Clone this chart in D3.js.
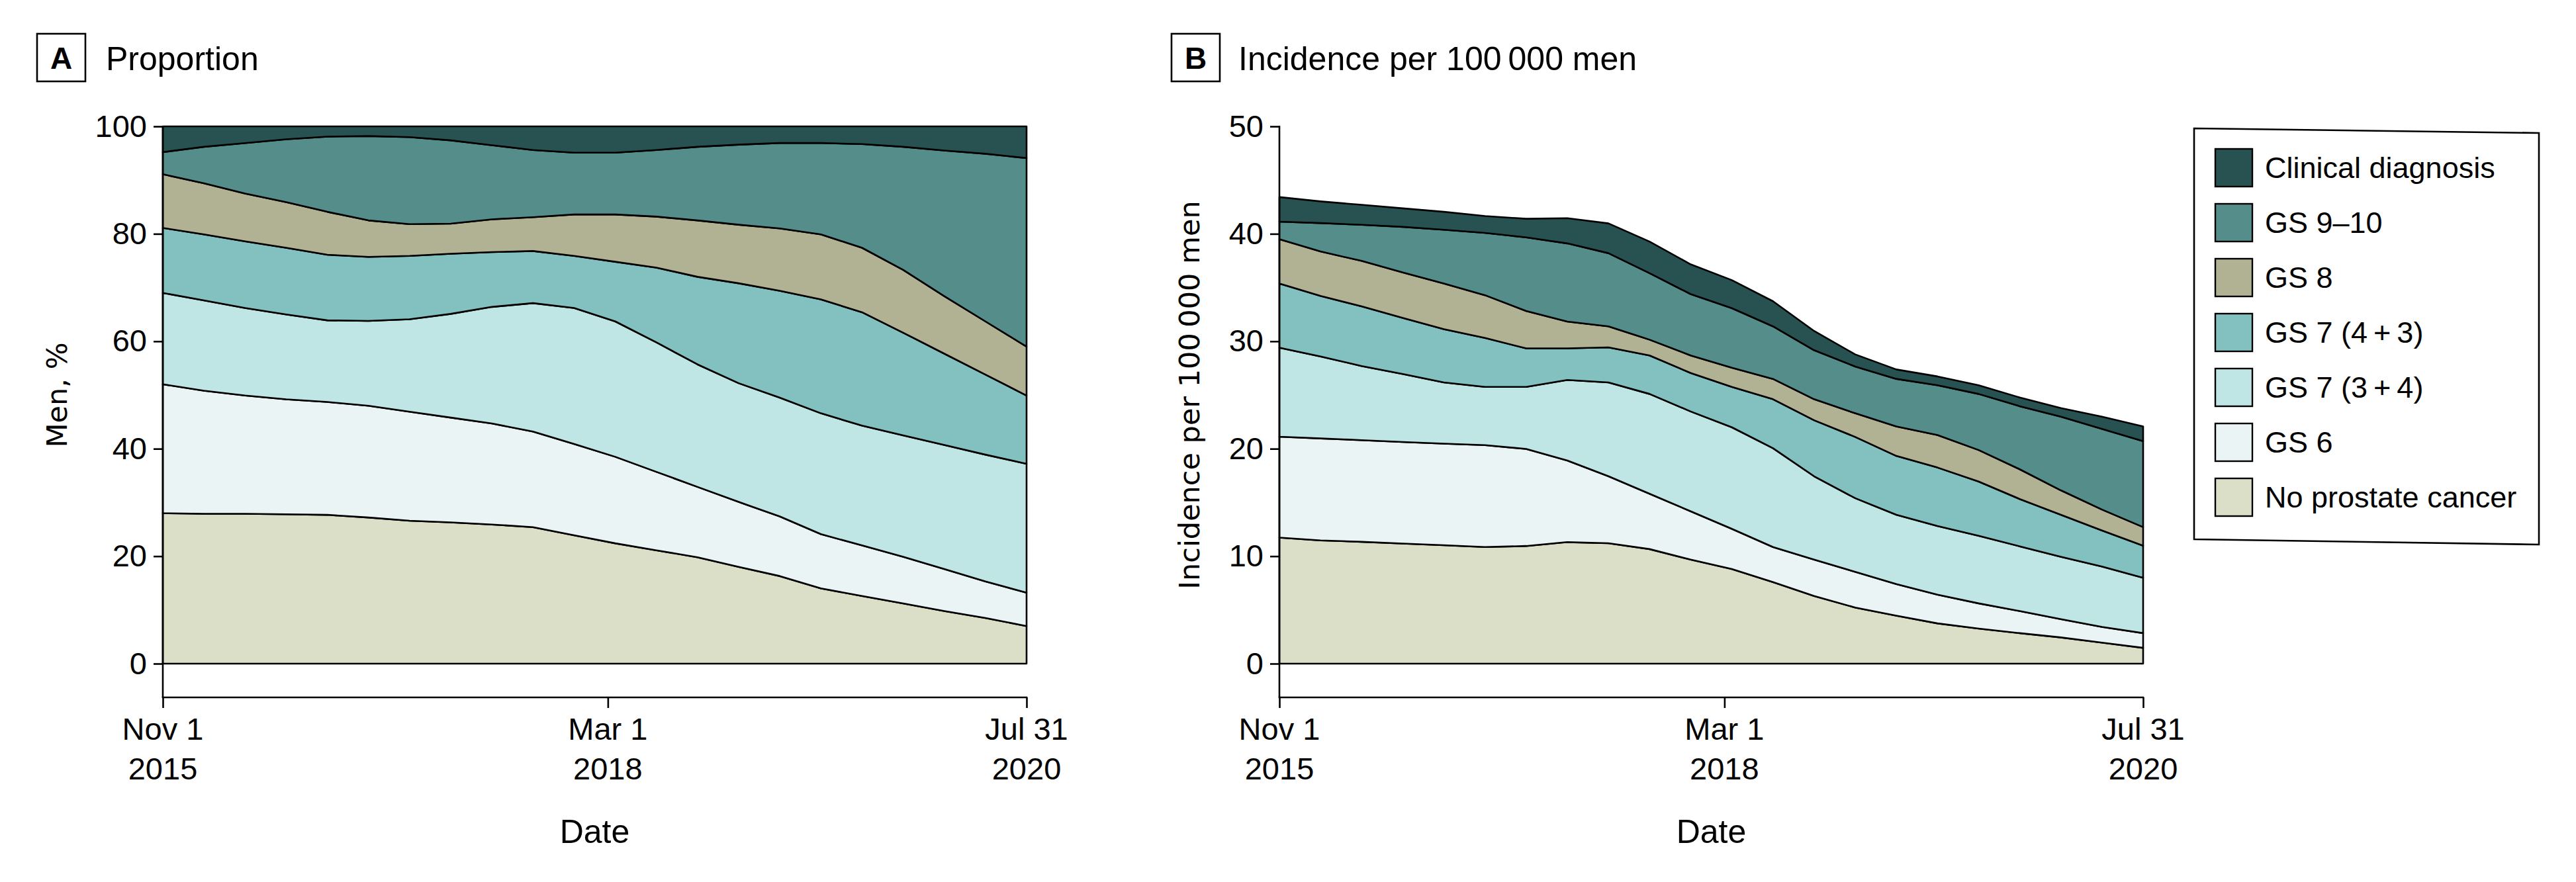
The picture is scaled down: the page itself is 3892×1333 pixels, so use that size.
<!DOCTYPE html>
<html><head><meta charset="utf-8">
<script src="https://cdn.jsdelivr.net/npm/d3@7"></script>
<style>body{margin:0;background:#fff}</style>
</head><body>
<svg id="chart" width="3892" height="1333" xmlns="http://www.w3.org/2000/svg"></svg>
<script>
// ---------- data ----------
const periods = [0,1,2,3,4,5,6,7,8,9,10,11,12,13,14,15,16,17,18,19,20,21];
const categories = ["No prostate cancer","GS 6","GS 7 (3\u2009+\u20094)","GS 7 (4\u2009+\u20093)","GS 8","GS 9\u201310","Clinical diagnosis"];
const keys = ["none","gs6","gs7a","gs7b","gs8","gs910","clin"];
const colors = ["#dbdfc7","#eaf4f5","#bfe6e5","#83c1c0","#b1b294","#558d8b","#285252"];

// Panel A: proportion, %
const propNone  = [28.0,27.9,27.9,27.8,27.7,27.2,26.6,26.3,25.9,25.4,23.9,22.4,21.1,19.8,18.0,16.3,14.0,12.6,11.2,9.8,8.5,7.0];
const propGS6   = [24.0,22.9,22.0,21.4,21.0,20.8,20.3,19.5,18.8,17.8,17.0,16.1,14.6,13.1,12.1,11.1,10.1,9.4,8.7,7.8,6.8,6.2];
const propGS7a  = [17.0,16.8,16.3,15.8,15.2,15.8,17.2,19.3,21.7,23.9,25.3,25.2,24.1,22.8,22.1,22.1,22.5,22.3,22.6,23.1,23.6,24.0];
const propGS7b  = [12.1,12.3,12.4,12.4,12.2,11.9,11.8,11.2,10.2,9.7,9.7,11.1,13.9,16.3,18.6,19.9,21.2,21.1,19.1,17.0,14.9,12.7];
const propGS8   = [10.0,9.5,8.9,8.5,8.0,6.8,5.9,5.6,6.1,6.3,7.7,8.8,9.5,10.5,10.9,11.6,12.1,12.0,11.7,10.7,9.9,9.1];
const propGS910 = [4.1,6.8,9.4,11.7,14.0,15.7,16.2,15.5,13.8,12.5,11.5,11.5,12.4,13.7,14.9,15.9,17.0,19.3,22.9,27.1,31.2,35.1];
const propClin  = [4.8,3.8,3.1,2.4,1.9,1.8,2.0,2.6,3.5,4.4,4.9,4.9,4.4,3.8,3.4,3.1,3.1,3.3,3.8,4.5,5.1,5.9];

// Panel B: incidence per 100 000 men
const incNone  = [11.73,11.47,11.34,11.18,11.02,10.85,10.95,11.31,11.21,10.66,9.68,8.80,7.59,6.29,5.22,4.47,3.75,3.26,2.84,2.44,1.96,1.47];
const incGS6   = [9.39,9.49,9.46,9.45,9.45,9.49,9.03,7.59,6.23,5.15,4.50,3.75,3.26,3.39,3.32,2.93,2.67,2.35,2.05,1.70,1.46,1.37];
const incGS7a  = [8.28,7.63,6.90,6.33,5.70,5.41,5.77,7.50,8.73,9.29,9.29,9.45,9.20,7.76,6.86,6.45,6.39,6.29,6.03,5.80,5.61,5.15];
const incGS7b  = [5.97,5.63,5.55,5.21,4.96,4.56,3.59,2.94,3.26,3.58,3.58,3.75,4.56,5.21,5.70,5.48,5.44,5.05,4.40,3.91,3.36,2.99];
const incGS8   = [4.13,4.14,4.23,4.24,4.24,3.98,3.48,2.50,1.96,1.47,1.63,1.79,1.89,1.96,2.20,2.74,3.03,2.93,2.77,2.28,1.95,1.73];
const incGS910 = [1.63,2.64,3.36,4.24,5.01,5.80,6.85,7.27,6.81,6.19,5.71,5.54,4.89,4.56,4.35,4.43,4.63,5.22,5.87,6.85,7.50,7.99];
const incClin  = [2.29,2.02,1.86,1.72,1.67,1.57,1.73,2.35,2.77,2.94,2.77,2.61,2.34,1.79,1.13,0.88,0.82,0.81,0.81,0.81,1.14,1.37];

// axis ticks
const xTickPos = [0, 10.82, 21];
const xTickLabels = [["Nov 1","2015"],["Mar 1","2018"],["Jul 31","2020"]];
const yTicksA = [0,20,40,60,80,100];
const yTicksB = [0,10,20,30,40,50];

// ---------- drawing ----------
const FONT = "'Liberation Sans', Arial, sans-serif";
const svg = d3.select("#chart");

function rowsFrom(arrs){
  return periods.map((p,i)=>{
    const r = {period:p};
    keys.forEach((k,j)=>{ r[k] = arrs[j][i]; });
    return r;
  });
}

function drawPanel(cfg){
  const {x0,x1,yTop,yZero,axisY,domainMax,ticks,rows,letter,title,ytitle,ytitleX,boxX,titleX} = cfg;
  const g = svg.append("g");
  const x = d3.scaleLinear().domain([0,21]).range([x0,x1]);
  const y = d3.scaleLinear().domain([0,domainMax]).range([yZero,yTop]);
  const series = d3.stack().keys(keys)(rows);
  const area = d3.area()
    .x(d=>x(d.data.period))
    .y0(d=>y(d[0]))
    .y1(d=>y(d[1]));
  g.selectAll("path.layer").data(series).join("path")
    .attr("class","layer")
    .attr("d",area)
    .attr("fill",(d,i)=>colors[i])
    .attr("stroke","#000")
    .attr("stroke-width",2.6)
    .attr("stroke-linejoin","round");

  // y axis
  const ya = g.append("g").attr("transform",`translate(${x0},0)`)
    .call(d3.axisLeft(y).tickValues(ticks).tickSize(14).tickSizeOuter(0).tickPadding(10));
  ya.select(".domain").remove();
  ya.selectAll(".tick line").attr("stroke","#000").attr("stroke-width",2.6);
  ya.selectAll(".tick text").attr("font-family",FONT).attr("font-size",47).attr("fill","#000");
  g.append("line").attr("x1",x0).attr("x2",x0).attr("y1",yTop-1).attr("y2",axisY)
    .attr("stroke","#000").attr("stroke-width",2.6);

  // x axis
  const xa = g.append("g").attr("transform",`translate(0,${axisY})`)
    .call(d3.axisBottom(x).tickValues(xTickPos).tickSize(16).tickSizeOuter(0).tickFormat(""));
  xa.select(".domain").remove();
  xa.selectAll(".tick line").attr("stroke","#000").attr("stroke-width",2.6);
  g.append("line").attr("x1",x0-1.3).attr("x2",x1+1.3).attr("y1",axisY).attr("y2",axisY)
    .attr("stroke","#000").attr("stroke-width",2.6);
  xTickPos.forEach((p,i)=>{
    const t = g.append("text").attr("font-family",FONT).attr("font-size",47)
      .attr("text-anchor","middle").attr("fill","#000");
    t.append("tspan").attr("x",x(p)).attr("y",axisY+48).attr("dy","0.35em").text(xTickLabels[i][0]);
    t.append("tspan").attr("x",x(p)).attr("y",axisY+108).attr("dy","0.35em").text(xTickLabels[i][1]);
  });
  g.append("text").attr("x",(x0+x1)/2).attr("y",1256).attr("dy","0.35em")
    .attr("text-anchor","middle").attr("font-family",FONT).attr("font-size",50).text("Date");

  // y title
  g.append("text").attr("transform",`translate(${ytitleX},${(yTop+yZero)/2}) rotate(-90)`)
    .attr("text-anchor","middle").attr("dominant-baseline","central")
    .attr("font-family","'DejaVu Sans', Verdana, sans-serif").attr("font-size",43).text(ytitle);

  // panel label
  g.append("rect").attr("x",boxX).attr("y",51).attr("width",73).attr("height",72)
    .attr("fill","none").attr("stroke","#000").attr("stroke-width",2.6);
  g.append("text").attr("x",boxX+36.5).attr("y",88).attr("dy","0.35em").attr("text-anchor","middle")
    .attr("font-family",FONT).attr("font-weight","bold").attr("font-size",46).text(letter);
  g.append("text").attr("x",titleX).attr("y",88).attr("dy","0.35em")
    .attr("font-family",FONT).attr("font-size",50).text(title);
}

drawPanel({x0:246,x1:1551,yTop:191,yZero:1003,axisY:1054,domainMax:100,ticks:yTicksA,
  rows:rowsFrom([propNone,propGS6,propGS7a,propGS7b,propGS8,propGS910,propClin]),
  letter:"A",title:"Proportion",ytitle:"Men, %",ytitleX:86,boxX:56,titleX:160});

drawPanel({x0:1933,x1:3238,yTop:191,yZero:1003,axisY:1054,domainMax:50,ticks:yTicksB,
  rows:rowsFrom([incNone,incGS6,incGS7a,incGS7b,incGS8,incGS910,incClin]),
  letter:"B",title:"Incidence per 100\u2009000 men",ytitle:"Incidence per 100\u2009000 men",ytitleX:1797,boxX:1770,titleX:1871});

// legend
const lg = svg.append("g");
lg.append("path").attr("d",d3.line()([[3315,194],[3836,201],[3836,823],[3315,815]])+"Z")
  .attr("fill","#fff").attr("stroke","#000").attr("stroke-width",2.6);
const legendOrder = d3.range(categories.length).reverse();
legendOrder.forEach((ci,row)=>{
  const yy = 225 + row*83;
  lg.append("rect").attr("x",3347).attr("y",yy).attr("width",56).attr("height",57)
    .attr("fill",colors[ci]).attr("stroke","#000").attr("stroke-width",2.4);
  lg.append("text").attr("x",3422).attr("y",yy+28.5).attr("dy","0.35em")
    .attr("font-family",FONT).attr("font-size",45).attr("fill","#000").text(categories[ci]);
});
</script>
</body></html>
